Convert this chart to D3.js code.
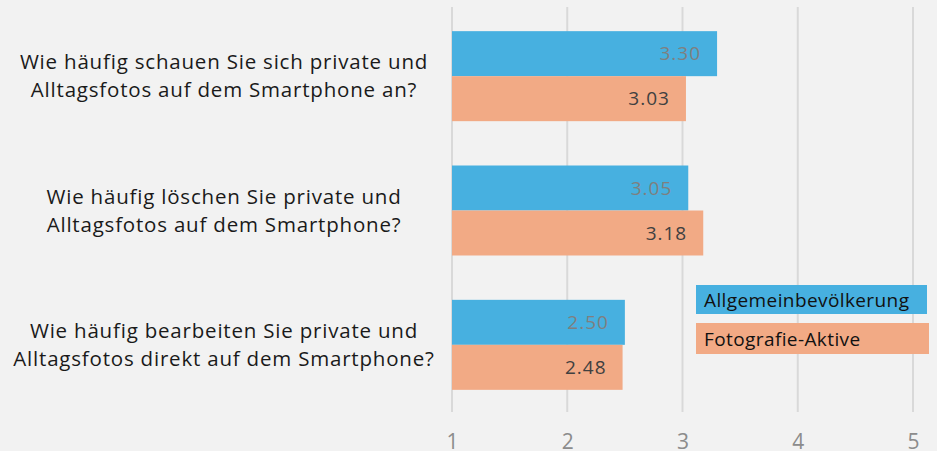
<!DOCTYPE html>
<html><head><meta charset="utf-8">
<script src="https://cdn.jsdelivr.net/npm/d3@7"></script>
<style>body{margin:0;background:#f2f2f2;} svg{display:block;}</style>
</head><body>
<svg id="c" width="937" height="451"></svg>
<script>
const categories = [
  ["Wie häufig schauen Sie sich private und", "Alltagsfotos auf dem Smartphone an?"],
  ["Wie häufig löschen Sie private und", "Alltagsfotos auf dem Smartphone?"],
  ["Wie häufig bearbeiten Sie private und", "Alltagsfotos direkt auf dem Smartphone?"]
];
const seriesNames = ["Allgemeinbevölkerung", "Fotografie-Aktive"];
const allgemein = [3.30, 3.05, 2.50];
const fotografie = [3.03, 3.18, 2.48];
const ticks = [1, 2, 3, 4, 5];
const colors = ["#47b0e0", "#f2aa85"];
const labelColors = ["#7f7f7f", "#404040"];

const svg = d3.select("#c");
const font = "'Open Sans', Lato, sans-serif";
svg.append("rect").attr("width", 937).attr("height", 451).attr("fill", "#f2f2f2");

const x = d3.scaleLinear().domain([1, 5]).range([452, 913]);
const y = d3.scaleBand().domain(d3.range(categories.length)).range([9, 412]).paddingInner(0.33).paddingOuter(0.165);
const ys = d3.scaleBand().domain([0, 1]).range([0, y.bandwidth()]);

// gridlines
svg.append("g").selectAll("line").data(ticks).join("line")
  .attr("x1", d => x(d)).attr("x2", d => x(d))
  .attr("y1", 7).attr("y2", 412)
  .attr("stroke", "#d9d9d9").attr("stroke-width", 2);

// tick labels
const xAxis = d3.axisBottom(x).tickValues(ticks).tickFormat(d3.format("d")).tickSize(0).tickPadding(0);
const ag = svg.append("g").attr("transform", "translate(0,433)").call(xAxis);
ag.select(".domain").remove();
ag.selectAll("text").attr("font-family", font).attr("font-size", 21).attr("fill", "#8c8c8c").attr("dy", "0.75em");

const data = categories.map((c, i) => [allgemein[i], fotografie[i]]);
const groups = svg.append("g").selectAll("g").data(data).join("g")
  .attr("transform", (d, i) => `translate(0,${y(i)})`);
groups.selectAll("rect").data(d => d).join("rect")
  .attr("x", x(1)).attr("y", (d, j) => ys(j))
  .attr("width", d => x(d) - x(1)).attr("height", ys.bandwidth())
  .attr("fill", (d, j) => colors[j]);
groups.selectAll("text").data(d => d).join("text")
  .attr("x", d => x(d) - 16).attr("y", (d, j) => ys(j) + ys.bandwidth() / 2)
  .attr("dy", "0.35em").attr("text-anchor", "end")
  .attr("font-family", font).attr("font-size", 19).attr("letter-spacing", 1)
  .attr("fill", (d, j) => labelColors[j])
  .text(d => d.toFixed(2));

// category labels
const cl = svg.append("g").selectAll("text").data(categories).join("text")
  .attr("text-anchor", "middle").attr("font-family", font).attr("font-size", 20.5)
  .attr("letter-spacing", 0.8).attr("fill", "#1a1a1a")
  .attr("transform", (d, i) => `translate(224,${y(i) + y.bandwidth() / 2})`);
cl.selectAll("tspan").data(d => d).join("tspan")
  .attr("x", 0).attr("y", (d, k) => (k - 0.5) * 28).attr("dy", "0.35em").text(d => d);

// legend
const leg = svg.append("g").selectAll("g").data(seriesNames).join("g")
  .attr("transform", (d, i) => `translate(696,${i === 0 ? 285 : 323})`);
leg.append("rect").attr("width", (d, i) => i === 0 ? 231 : 233).attr("height", (d, i) => i === 0 ? 29 : 31)
  .attr("fill", (d, i) => colors[i]);
leg.append("text").attr("x", 8).attr("y", (d, i) => i === 0 ? 15 : 16).attr("dy", "0.35em")
  .attr("font-family", font).attr("font-size", 19).attr("letter-spacing", 0.4)
  .attr("fill", "#111").text(d => d);
</script>
</body></html>
